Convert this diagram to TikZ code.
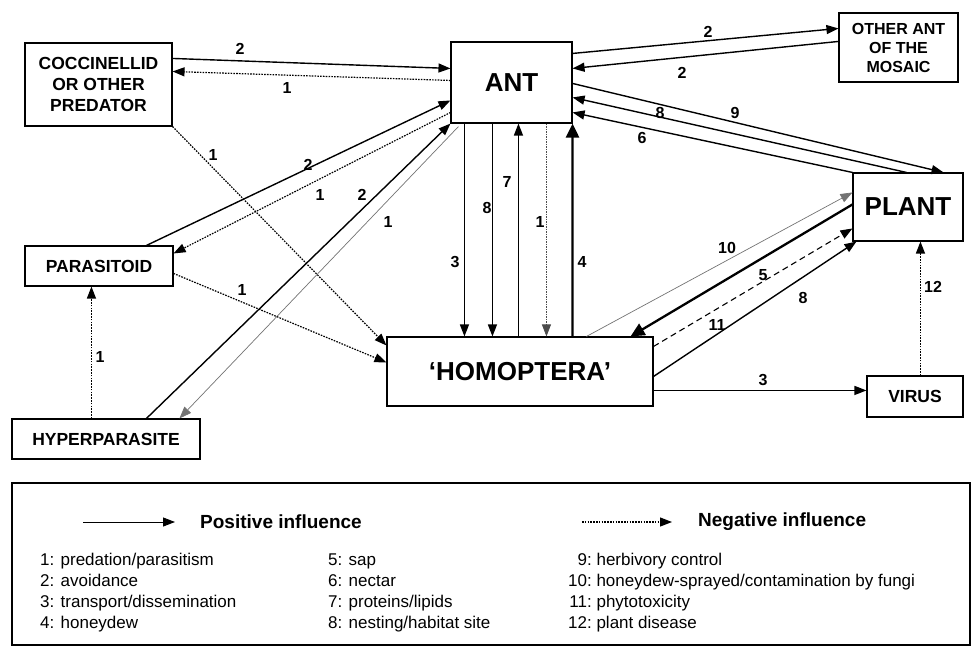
\documentclass[tikz,border=0pt]{standalone}
\usepackage{fontspec}
\setmainfont{Liberation Sans}
\usetikzlibrary{arrows.meta}
\begin{document}
\begin{tikzpicture}[x=1pt,y=-1pt,
  box/.style={draw, line width=1.1pt, inner sep=0pt, align=center, font=\bfseries\fontsize{17.5}{21}\selectfont},
  bigbox/.style={box, font=\bfseries\fontsize{26}{30}\selectfont},
  lbl/.style={font=\bfseries\fontsize{16}{16}\selectfont, inner sep=0pt},
  tip/.style={-{Triangle[length=12pt,width=9pt]}},
  posarrow/.style={tip, line width=1.4pt},
  thickarrow/.style={line width=2.3pt, -{Triangle[length=14pt,width=13pt]}},
  negarrow/.style={tip, line width=1.2pt, dash pattern=on 1.6pt off 1.2pt},
  faintarrow/.style={tip, line width=0.7pt, black!55},
  dasharrow/.style={tip, line width=1.1pt, dash pattern=on 6pt off 4pt},
  legtext/.style={inner sep=0pt, anchor=north west, font=\fontsize{17}{21}\selectfont}
]
\useasboundingbox (0,0) rectangle (974,647);

% boxes
\node[box, minimum width=147pt, minimum height=83pt] (cocc) at (98.5,84.5) {COCCINELLID\\OR OTHER\\PREDATOR};
\node[bigbox, minimum width=121pt, minimum height=81pt] (ant) at (511.5,82.5) {ANT};
\node[box, minimum width=119pt, minimum height=69pt, font=\bfseries\fontsize{16}{19}\selectfont] (other) at (898.5,47.5) {OTHER ANT\\OF THE\\MOSAIC};
\node[bigbox, minimum width=110pt, minimum height=68pt] (plant) at (908,207) {PLANT};
\node[box, minimum width=148pt, minimum height=40pt] (para) at (99,266) {PARASITOID};
\node[box, minimum width=188pt, minimum height=40pt] (hyper) at (106,439) {HYPERPARASITE};
\node[bigbox, minimum width=266pt, minimum height=69pt] (hom) at (520,371.5) {`HOMOPTERA'};
\node[box, minimum width=96pt, minimum height=41pt] (virus) at (915,396.5) {VIRUS};

% connectors
\draw[posarrow] ([shift={(0,16)}]cocc.north east) -- ([shift={(0,27)}]ant.north west);
\draw[negarrow] ([shift={(0,39)}]ant.north west) -- ([shift={(0,29)}]cocc.north east);
\draw[posarrow] ([shift={(122,0)}]para.north west) -- ([shift={(0,59)}]ant.north west);
\draw[negarrow] ([shift={(0,71)}]ant.north west) -- ([shift={(0,8)}]para.north east);
\draw[posarrow] ([shift={(135,0)}]hyper.north west) -- (ant.south west);
\draw[faintarrow] ([shift={(8,3)}]ant.south west) -- ([shift={(168,0)}]hyper.north west);
\draw[negarrow] (cocc.south east) -- ([shift={(0,9)}]hom.north west);
\draw[negarrow] ([shift={(0,28)}]para.north east) -- ([shift={(0,26)}]hom.north west);
\draw[negarrow] ([shift={(80,0)}]hyper.north west) -- ([shift={(67,0)}]para.south west);

\draw[posarrow] ([shift={(14,0)}]ant.south west) -- ([shift={(78,0)}]hom.north west);
\draw[posarrow] ([shift={(42,0)}]ant.south west) -- ([shift={(106,0)}]hom.north west);
\draw[posarrow] ([shift={(132,0)}]hom.north west) -- ([shift={(68,0)}]ant.south west);
\draw[tip, line width=0.8pt, dash pattern=on 1.5pt off 1pt, black!70] ([shift={(96,0)}]ant.south west) -- ([shift={(160,0)}]hom.north west);
\draw[thickarrow] ([shift={(186,0)}]hom.north west) -- (ant.south east);

\draw[posarrow] ([shift={(0,12)}]ant.north east) -- ([shift={(0,16)}]other.north west);
\draw[posarrow] ([shift={(0,29)}]other.north west) -- ([shift={(0,27)}]ant.north east);
\draw[posarrow] ([shift={(0,42)}]ant.north east) -- ([shift={(-20,0)}]plant.north east);
\draw[posarrow] ([shift={(54,0)}]plant.north west) -- ([shift={(0,56)}]ant.north east);
\draw[posarrow] (plant.north west) -- ([shift={(0,71)}]ant.north east);

\draw[faintarrow] ([shift={(200,0)}]hom.north west) -- ([shift={(0,20)}]plant.north west);
\draw[thickarrow] ([shift={(0,32)}]plant.north west) -- ([shift={(-23,0)}]hom.north east);
\draw[dasharrow] ([shift={(0,10)}]hom.north east) -- ([shift={(0,56)}]plant.north west);
\draw[posarrow] ([shift={(0,40)}]hom.north east) -- ([shift={(4,0)}]plant.south west);
\draw[posarrow] ([shift={(0,54)}]hom.north east) -- ([shift={(0,15)}]virus.north west);
\draw[negarrow] ([shift={(54,0)}]virus.north west) -- ([shift={(68,0)}]plant.south west);

% connector labels
\node[lbl] (t1) at (240,49) {2};
\node[lbl] (t2) at (287,88) {1};
\node[lbl] (t3) at (213,155) {1};
\node[lbl] (t4) at (308,165) {2};
\node[lbl] (t5) at (320,195) {1};
\node[lbl] (t6) at (362,195) {2};
\node[lbl] (t7) at (388,222) {1};
\node[lbl] (t8) at (242,290) {1};
\node[lbl] (t9) at (100,357) {1};
\node[lbl] (t10) at (455,262) {3};
\node[lbl] (t11) at (487,208) {8};
\node[lbl] (t12) at (507,182) {7};
\node[lbl] (t13) at (540,222) {1};
\node[lbl] (t14) at (582,262) {4};
\node[lbl] (t15) at (708,32) {2};
\node[lbl] (t16) at (682,73) {2};
\node[lbl] (t17) at (735,113) {9};
\node[lbl] (t18) at (660,113) {8};
\node[lbl] (t19) at (642,138) {6};
\node[lbl] (t20) at (727,248) {10};
\node[lbl] (t21) at (763,275) {5};
\node[lbl] (t22) at (803,298) {8};
\node[lbl] (t23) at (717,325) {11};
\node[lbl] (t24) at (763,380) {3};
\node[lbl] (t25) at (933,287) {12};

% legend
\node[draw, line width=1.1pt, minimum width=958pt, minimum height=162pt, inner sep=0pt] (legend) at (491,564) {};
\coordinate (pa) at (83,522);
\coordinate (pb) at (175,522);
\draw[posarrow, line width=1pt] (pa) -- (pb);
\node[inner sep=0pt, anchor=west, font=\bfseries\fontsize{19}{22}\selectfont] (postext) at (200,522) {Positive influence};
\coordinate (na) at (582,522);
\coordinate (nb) at (672,522);
\draw[negarrow] (na) -- (nb);
\node[inner sep=0pt, anchor=west, font=\bfseries\fontsize{19}{22}\selectfont] (negtext) at (698,522) {Negative influence};

\node[legtext] (col1) at (40,551) {\begin{tabular}{@{}l@{}}1: predation/parasitism\\2: avoidance\\3: transport/dissemination\\4: honeydew\end{tabular}};
\node[legtext] (col2) at (328,551) {\begin{tabular}{@{}l@{}}5: sap\\6: nectar\\7: proteins/lipids\\8: nesting/habitat site\end{tabular}};
\node[legtext] (col3) at (568,551) {\begin{tabular}{@{}r@{}l@{}}9:&\ herbivory control\\10:&\ honeydew-sprayed/contamination by fungi\\11:&\ phytotoxicity\\12:&\ plant disease\end{tabular}};
\end{tikzpicture}
\end{document}
